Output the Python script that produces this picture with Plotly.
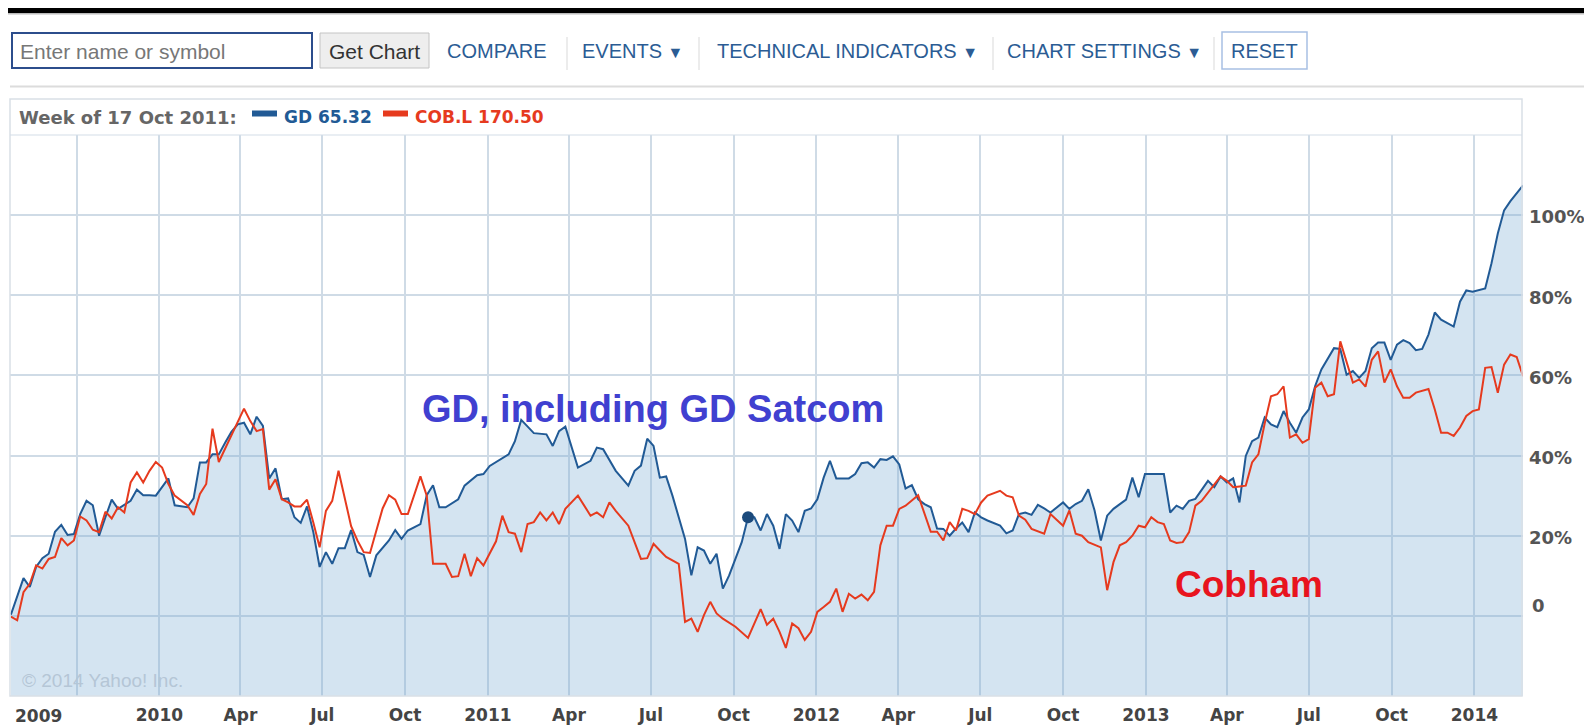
import numpy as np
import pandas as pd
import plotly.graph_objects as go

# ---------------- data (weekly, weeks counted from start_date) ----------------
start_date = "2009-07-20"

gd_weeks = [
    0, 2, 3, 4, 5, 6, 7, 8, 9, 10,
    11, 12, 13, 14, 15, 16, 17, 18, 19, 20,
    21, 22, 23, 25, 26, 28, 29, 30, 31, 32,
    33, 34, 35, 36, 37, 38, 39, 40, 41, 42,
    43, 44, 45, 46, 47, 48, 49, 50, 51, 52,
    53, 54, 55, 56, 57, 58, 60, 61, 62, 63,
    65, 66, 67, 68, 69, 71, 72, 74, 75, 76,
    77, 79, 80, 81, 83, 85, 86, 87, 88, 90,
    92, 93, 94, 96, 98, 99, 100, 101, 102, 103,
    104, 105, 107, 108, 109, 110, 111, 112, 113, 114,
    116, 117, 118, 119, 120, 121, 122, 123, 124, 125,
    126, 127, 128, 129, 130, 131, 133, 134, 135, 136,
    137, 138, 139, 140, 141, 142, 143, 144, 145, 146,
    147, 148, 149, 150, 151, 152, 153, 154, 155, 157,
    158, 159, 160, 161, 162, 163, 164, 165, 167, 168,
    169, 170, 171, 172, 173, 174, 175, 176, 177, 178,
    179, 180, 183, 184, 185, 186, 187, 188, 190, 191,
    192, 193, 194, 195, 196, 197, 198, 199, 200, 201,
    202, 203, 204, 205, 206, 207, 208, 210, 211, 212,
    213, 214, 215, 216, 217, 218, 219, 220, 221, 222,
    223, 224, 225, 226, 227, 229, 230, 231, 232, 234,
    235, 236, 237, 238, 240,
]
gd_values = [
    0.3, 9.4, 7.2, 12.2, 14.4, 15.5, 21.0, 22.7, 20.2, 20.4,
    25.4, 28.7, 27.6, 20.0, 24.6, 29.0, 26.7, 27.6, 28.7, 31.5,
    30.1, 30.1, 30.0, 34.3, 27.6, 27.1, 29.3, 38.3, 38.3, 40.3,
    40.3, 43.2, 45.9, 47.8, 48.2, 45.3, 49.7, 47.4, 34.3, 36.8,
    29.1, 29.3, 24.6, 23.2, 27.3, 20.9, 12.2, 15.9, 13.0, 16.9,
    16.9, 21.4, 15.9, 15.2, 9.7, 15.1, 18.8, 21.4, 19.2, 21.3,
    22.9, 30.1, 32.6, 27.1, 27.1, 29.1, 32.5, 35.1, 35.4, 37.4,
    38.3, 40.3, 43.6, 48.9, 45.6, 45.3, 42.4, 46.1, 47.2, 37.0,
    38.7, 42.0, 41.6, 36.2, 32.5, 36.2, 37.5, 44.2, 42.4, 34.5,
    34.8, 30.0, 19.2, 10.1, 17.1, 16.3, 13.0, 15.5, 6.8, 10.1,
    18.4, 24.6, 24.6, 21.3, 25.4, 22.5, 16.7, 25.4, 23.8, 20.9,
    26.2, 26.8, 29.1, 34.5, 38.7, 34.3, 34.3, 35.4, 38.1, 38.3,
    37.0, 39.1, 38.9, 39.8, 37.8, 31.8, 32.6, 29.1, 27.9, 27.1,
    21.8, 21.7, 20.0, 21.8, 23.3, 20.9, 25.8, 24.6, 23.8, 22.5,
    20.6, 21.3, 25.4, 25.8, 25.2, 27.7, 26.8, 25.8, 28.3, 26.7,
    27.9, 28.7, 31.6, 26.3, 18.8, 25.0, 26.7, 27.9, 29.0, 34.5,
    29.6, 35.4, 35.4, 25.8, 27.5, 26.7, 28.7, 29.2, 33.7, 32.1,
    34.8, 33.3, 34.3, 28.3, 39.9, 43.6, 44.5, 49.5, 47.8, 47.1,
    51.1, 48.2, 45.7, 49.5, 51.5, 57.3, 61.5, 66.8, 66.6, 60.2,
    61.1, 59.4, 61.1, 66.8, 68.2, 68.2, 63.9, 67.7, 68.8, 68.1,
    66.3, 66.6, 70.2, 75.7, 73.9, 72.2, 78.4, 81.2, 80.9, 81.7,
    88.0, 95.4, 101.2, 103.5, 107.4,
]

cob_weeks = [
    0, 1, 2, 3, 4, 5, 6, 7, 8, 9,
    10, 11, 12, 13, 14, 15, 16, 17, 18, 19,
    20, 21, 22, 23, 24, 25, 26, 28, 29, 30,
    31, 32, 33, 34, 35, 36, 37, 38, 39, 40,
    41, 42, 43, 44, 45, 46, 47, 48, 49, 50,
    51, 52, 53, 54, 55, 56, 57, 59, 60, 61,
    62, 63, 65, 66, 67, 69, 70, 71, 72, 73,
    74, 75, 77, 78, 79, 80, 81, 82, 83, 84,
    85, 86, 87, 88, 90, 92, 93, 94, 95, 96,
    98, 100, 101, 102, 103, 104, 106, 107, 108, 109,
    110, 111, 112, 113, 115, 116, 117, 119, 120, 121,
    122, 123, 124, 125, 126, 127, 128, 129, 130, 131,
    132, 133, 134, 135, 136, 137, 138, 139, 140, 141,
    142, 144, 145, 146, 147, 148, 149, 150, 151, 152,
    153, 154, 155, 157, 158, 159, 160, 161, 162, 164,
    165, 167, 168, 169, 170, 171, 173, 174, 175, 176,
    177, 178, 179, 180, 181, 182, 183, 184, 185, 186,
    187, 188, 189, 190, 192, 193, 194, 195, 196, 197,
    198, 199, 200, 201, 202, 203, 204, 205, 206, 207,
    208, 209, 210, 211, 212, 213, 214, 215, 216, 217,
    218, 219, 220, 221, 222, 223, 225, 226, 227, 228,
    229, 230, 231, 232, 233, 234, 235, 236, 237, 238,
    239, 240,
]
cob_values = [
    -0.2, -1.1, 5.9, 8.0, 12.6, 11.8, 14.2, 14.7, 19.4, 17.6,
    18.8, 24.8, 23.8, 21.5, 20.9, 26.0, 24.3, 27.1, 25.8, 33.3,
    35.8, 33.3, 36.2, 38.4, 37.0, 32.9, 30.0, 27.6, 25.2, 30.4,
    32.9, 46.7, 38.4, 41.7, 45.3, 48.2, 51.7, 48.6, 46.1, 46.6,
    31.5, 34.1, 29.1, 28.3, 27.3, 27.3, 29.0, 23.3, 17.1, 26.2,
    28.7, 36.2, 29.6, 22.4, 18.8, 15.9, 15.7, 26.8, 30.1, 29.0,
    25.4, 25.4, 34.8, 30.0, 13.0, 13.0, 9.7, 9.9, 15.5, 9.9,
    14.4, 12.6, 18.6, 25.0, 20.9, 20.5, 15.9, 22.9, 23.4, 25.8,
    23.8, 25.8, 22.9, 26.7, 30.0, 25.0, 25.8, 24.6, 28.3, 26.2,
    22.5, 14.2, 14.4, 18.0, 16.3, 14.7, 13.0, -1.5, -0.7, -4.0,
    0.2, 3.5, 0.6, -0.7, -2.7, -4.0, -5.5, 1.7, -2.2, -0.7,
    -4.0, -8.0, -1.9, -3.1, -6.0, -4.0, 1.0, 2.2, 3.5, 6.8,
    1.0, 5.5, 4.3, 5.3, 3.9, 6.0, 17.6, 22.5, 22.5, 26.7,
    27.5, 30.1, 25.8, 21.0, 21.0, 18.8, 23.4, 21.3, 26.7, 26.2,
    25.4, 28.3, 30.0, 31.2, 30.0, 29.6, 25.0, 24.0, 21.7, 20.5,
    25.4, 22.5, 26.3, 20.5, 20.0, 18.4, 17.1, 6.4, 13.4, 17.6,
    18.4, 20.0, 22.5, 22.1, 24.6, 23.4, 22.9, 18.8, 18.2, 18.4,
    20.9, 27.5, 28.7, 30.8, 34.8, 33.7, 32.1, 32.3, 32.5, 38.3,
    40.3, 48.0, 54.8, 55.3, 57.3, 44.5, 45.3, 43.2, 44.1, 56.9,
    58.2, 54.8, 55.3, 68.5, 63.1, 58.2, 59.0, 57.2, 63.9, 66.0,
    58.2, 61.5, 57.3, 54.4, 54.4, 55.7, 56.6, 51.5, 45.7, 45.7,
    44.9, 47.0, 49.9, 51.1, 51.5, 61.9, 62.1, 55.7, 62.7, 65.2,
    64.6, 59.8,
]

marker_week = 117  # "Week of 17 Oct 2011"

x_range = ["2009-07-19", "2014-02-24"]
y_range = [-20, 120]

quarter_ticks = [
    "2009-10-01", "2010-01-01", "2010-04-01", "2010-07-01", "2010-10-01",
    "2011-01-01", "2011-04-01", "2011-07-01", "2011-10-01",
    "2012-01-01", "2012-04-01", "2012-07-01", "2012-10-01",
    "2013-01-01", "2013-04-01", "2013-07-01", "2013-10-01", "2014-01-01",
]
quarter_labels = [
    "", "2010", "Apr", "Jul", "Oct",
    "2011", "Apr", "Jul", "Oct",
    "2012", "Apr", "Jul", "Oct",
    "2013", "Apr", "Jul", "Oct", "2014",
]
y_ticks = [0, 20, 40, 60, 80, 100]
y_labels = ["", "20%", "40%", "60%", "80%", "100%"]

# ---------------- build ----------------
def to_dates(weeks):
    return pd.Timestamp(start_date) + pd.to_timedelta(np.asarray(weeks) * 7, unit="D")

gd_dates = to_dates(gd_weeks)
cob_dates = to_dates(cob_weeks)

GD_COLOR = "#215a95"
COB_COLOR = "#e63a1e"
GRID = "#cfdbe6"
FILL = "rgba(120,170,210,0.32)"

fig = go.Figure()
# floor of the area (axis minimum)
fig.add_trace(go.Scatter(x=gd_dates, y=[y_range[0]] * len(gd_dates), mode="lines",
                         line=dict(width=0), hoverinfo="skip", showlegend=False))
fig.add_trace(go.Scatter(x=gd_dates, y=gd_values, mode="lines", fill="tonexty",
                         fillcolor=FILL, line=dict(color=GD_COLOR, width=2),
                         name="GD", showlegend=False))
fig.add_trace(go.Scatter(x=cob_dates, y=cob_values, mode="lines",
                         line=dict(color=COB_COLOR, width=2),
                         name="COB.L", showlegend=False))
mi = gd_weeks.index(marker_week)
fig.add_trace(go.Scatter(x=[gd_dates[mi]], y=[gd_values[mi]], mode="markers",
                         marker=dict(color="#1b4a7c", size=12), showlegend=False))

# ---------------- page geometry (page pixels; body has an 8px margin) ----------------
PAGE_W, PAGE_H = 1592, 726
BODY = 8
W, H = PAGE_W - BODY, PAGE_H - BODY
PLOT_L, PLOT_R, PLOT_T, PLOT_B = 10, 1523, 135, 696   # page pixels
PW, PH = PLOT_R - PLOT_L, PLOT_B - PLOT_T


def px(X):
    return (X - PLOT_L) / PW


def py(Y):
    return (PLOT_B - Y) / PH


shapes = []


def rect(x0, y0, x1, y1, fill="rgba(0,0,0,0)", line="rgba(0,0,0,0)", lw=0):
    shapes.append(dict(type="rect", xref="paper", yref="paper",
                       x0=px(x0), x1=px(x1), y0=py(y1), y1=py(y0),
                       fillcolor=fill, line=dict(color=line, width=lw), layer="above"))


rect(0, 7, PAGE_W + 5, 13, fill="#000000")
rect(0, 13, PAGE_W + 5, 14.5, fill="#bbbbbb")
rect(10, 85.5, PAGE_W + 5, 87.5, fill="#dcdcdc")
rect(12, 33, 312, 68, fill="#ffffff", line="#2c4d8c", lw=2)
rect(320, 33, 429, 68, fill="#eeeeee", line="#c4c4c4", lw=1)
for sx in [567, 699, 993, 1214]:
    rect(sx - 0.5, 37, sx + 0.5, 70, fill="#d9d9d9")
rect(1222, 32, 1307, 69, fill="#ffffff", line="#a8c0e4", lw=1.5)
rect(10, 99, 1522, 696, line="#d9dfe6", lw=1.5)
rect(10, 134.5, 1522, 135.5, fill="#d3dde8")
rect(252, 110.5, 277, 116.5, fill=GD_COLOR)
rect(383, 110.5, 408, 116.5, fill=COB_COLOR)

annotations = []


def text(X, Y, s, size, color, family="Liberation Sans", weight="normal", xanchor="center"):
    annotations.append(dict(xref="paper", yref="paper", x=px(X), y=py(Y), text=s,
                            showarrow=False, xanchor=xanchor, yanchor="middle",
                            font=dict(family=family, size=size, color=color, weight=weight)))


TB = "#2b5c94"
tri = "<span style='font-size:16px'>▼</span>"
text(18, 51, "Enter name or symbol", 21, "#777777", xanchor="left")
text(374.5, 51, "Get Chart", 21, "#333333")
text(497, 51, "COMPARE", 20, TB)
text(632, 51, "EVENTS " + tri, 20, TB)
text(847, 51, "TECHNICAL INDICATORS " + tri, 20, TB)
text(1104, 51, "CHART SETTINGS " + tri, 20, TB)
text(1264.5, 51, "RESET", 20, TB)

text(17, 117, "Week of 17 Oct 2011:", 18, "#666666", family="DejaVu Sans", weight="bold", xanchor="left")
text(282, 117, "GD 65.32", 17, GD_COLOR, family="DejaVu Sans", weight="bold", xanchor="left")
text(413, 117, "COB.L 170.50", 17, COB_COLOR, family="DejaVu Sans", weight="bold", xanchor="left")

text(652.5, 409, "GD, including GD Satcom", 38, "#4040d0", weight="bold")
text(1249, 584, "Cobham", 37, "#e8141e", weight="bold")
text(20, 680, "© 2014 Yahoo! Inc.", 19, "#b5c6d6", xanchor="left")
text(38.5, 716, "2009", 17, "#444444", family="DejaVu Sans", weight="bold")
text(1530, 605, "0", 18, "#555555", family="DejaVu Sans", weight="bold", xanchor="left")

fig.update_layout(
    width=W, height=H, autosize=False,
    margin=dict(l=PLOT_L - BODY, r=PAGE_W - PLOT_R, t=PLOT_T - BODY, b=PAGE_H - PLOT_B, pad=0),
    paper_bgcolor="#ffffff", plot_bgcolor="#ffffff",
    showlegend=False, hovermode=False,
    shapes=shapes, annotations=annotations,
)
fig.update_xaxes(
    type="date", range=x_range, tickmode="array", tickvals=quarter_ticks, ticktext=quarter_labels,
    showgrid=True, gridcolor=GRID, gridwidth=1.5, ticks="", showline=False, zeroline=False,
    tickfont=dict(family="DejaVu Sans", size=17, color="#444444", weight="bold"),
    ticklabelstandoff=7, fixedrange=True,
)
fig.update_yaxes(
    range=y_range, side="right", tickmode="array", tickvals=y_ticks, ticktext=y_labels,
    showgrid=True, gridcolor=GRID, gridwidth=1.5, zeroline=False, ticks="", showline=False,
    tickfont=dict(family="DejaVu Sans", size=18, color="#555555", weight="bold"),
    ticklabelstandoff=5, ticklabelshift=2, fixedrange=True,
)

fig.write_html("out.html", config={"displayModeBar": False})
